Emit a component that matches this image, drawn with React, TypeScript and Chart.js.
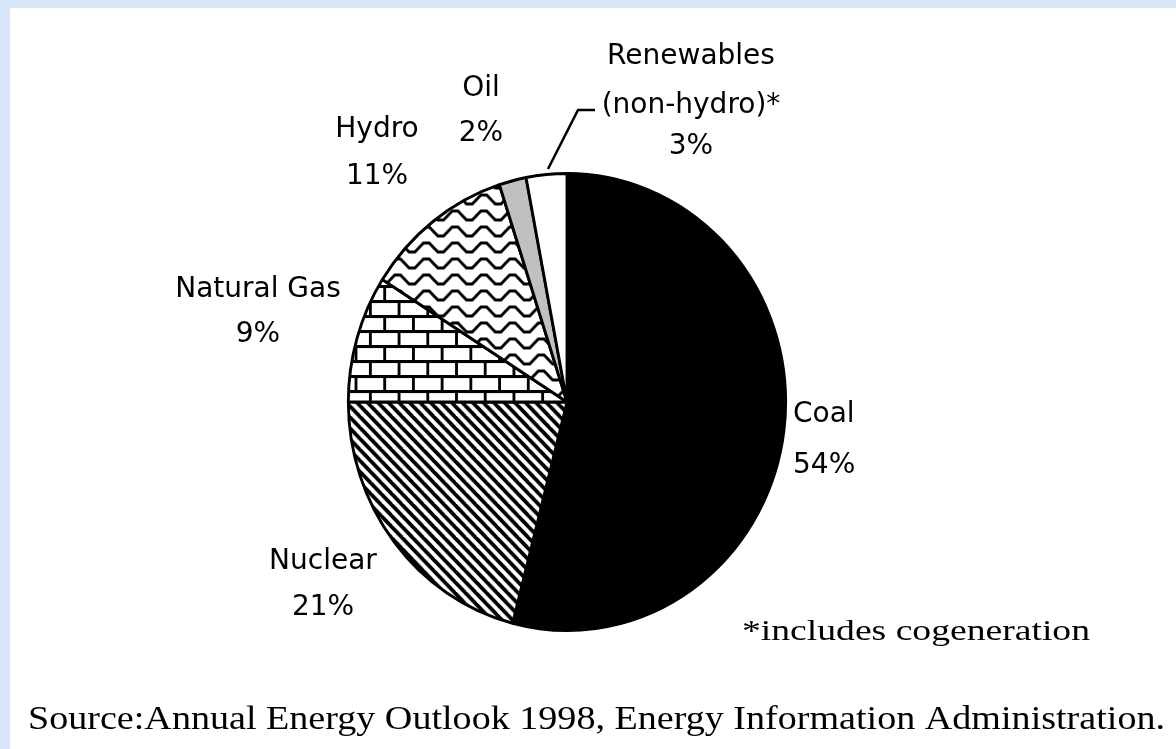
import React, { useEffect, useRef } from "react";
import { Chart, registerables } from "chart.js";
Chart.register(...registerables);

// ---- data ----
const categories = ["Coal", "Nuclear", "Natural Gas", "Hydro", "Oil", "Renewables (non-hydro)*"];
const shares = [54, 21, 9, 11, 2, 3];
const shareLabels = ["54%", "21%", "9%", "11%", "2%", "3%"];
const nameLines = [["Coal"], ["Nuclear"], ["Natural Gas"], ["Hydro"], ["Oil"], ["Renewables", "(non-hydro)*"]];
const footnote = "*includes cogeneration";
const sourceText = "Source:Annual Energy Outlook 1998, Energy Information Administration.";

// ---- layout / style ----
const W = 1176;
const H = 749;
const SX = 0.957; // slight horizontal squash (pie is a bit taller than wide)
const labelPos = [
  { x: 793, ys: [415, 466], align: "left" },
  { x: 323, ys: [562, 608], align: "center" },
  { x: 258, ys: [290, 335], align: "center" },
  { x: 377, ys: [130, 177], align: "center" },
  { x: 481, ys: [89, 134], align: "center" },
  { x: 691, ys: [57, 106, 147], align: "center" },
];

function makeTile(w: number, h: number, draw: (c: CanvasRenderingContext2D) => void) {
  const cv = document.createElement("canvas");
  cv.width = w;
  cv.height = h;
  const c = cv.getContext("2d")!;
  c.fillStyle = "#fff";
  c.fillRect(0, 0, w, h);
  c.fillStyle = "#000";
  c.strokeStyle = "#000";
  draw(c);
  return cv;
}

function fitText(ctx: CanvasRenderingContext2D, text: string, left: number, cy: number, width: number, font: string) {
  ctx.font = font;
  const w = ctx.measureText(text).width;
  ctx.save();
  ctx.translate(left, cy);
  ctx.scale(width / w, 1);
  ctx.textAlign = "left";
  ctx.textBaseline = "middle";
  ctx.fillText(text, 0, 0);
  ctx.restore();
}

export default function App() {
  const ref = useRef<HTMLCanvasElement | null>(null);
  useEffect(() => {
    const canvas = ref.current!;
    const pctx = canvas.getContext("2d")!;

    const stripes = makeTile(11, 11, (c) => {
      c.lineWidth = 3.9;
      c.lineCap = "square";
      for (const dx of [-11, 0, 11]) {
        c.beginPath();
        c.moveTo(dx - 2, -2);
        c.lineTo(dx + 13, 13);
        c.stroke();
      }
    });
    const bricks = makeTile(30, 30, (c) => {
      c.fillRect(0, 0, 30, 3);
      c.fillRect(0, 15, 30, 3);
      c.fillRect(0, 3, 3, 12);
      c.fillRect(15, 18, 3, 12);
    });
    const zigzag = makeTile(30, 16, (c) => {
      c.lineWidth = 3;
      c.lineJoin = "miter";
      c.beginPath();
      c.moveTo(-4, 3);
      c.lineTo(3, 3);
      c.lineTo(12, 12);
      c.lineTo(18, 12);
      c.lineTo(27, 3);
      c.lineTo(34, 3);
      c.stroke();
    });

    const fills = [
      "#000000",
      pctx.createPattern(stripes, "repeat"),
      pctx.createPattern(bricks, "repeat"),
      pctx.createPattern(zigzag, "repeat"),
      "#c0c0c0",
      "#ffffff",
    ];

    const bg = {
      id: "bg",
      beforeDraw(chart: any) {
        const ctx = chart.ctx;
        ctx.save();
        ctx.fillStyle = "#d8e5f7";
        ctx.fillRect(0, 0, W, H);
        ctx.fillStyle = "#ffffff";
        ctx.fillRect(10, 8, W - 10, H - 8);
        ctx.restore();
      },
    };
    const squash = {
      id: "squash",
      beforeDatasetsDraw(chart: any) {
        const ctx = chart.ctx;
        const a = chart.chartArea;
        const cx = (a.left + a.right) / 2;
        ctx.save();
        ctx.translate(cx, 0);
        ctx.scale(SX, 1);
        ctx.translate(-cx, 0);
      },
      afterDatasetsDraw(chart: any) {
        chart.ctx.restore();
      },
    };
    const labels = {
      id: "labels",
      afterDraw(chart: any) {
        const ctx = chart.ctx as CanvasRenderingContext2D;
        ctx.save();
        ctx.fillStyle = "#000";
        ctx.font = "28px 'DejaVu Sans'";
        ctx.textBaseline = "middle";
        categories.forEach((_, i) => {
          const p = labelPos[i];
          const lines = [...nameLines[i], shareLabels[i]];
          ctx.textAlign = p.align as CanvasTextAlign;
          lines.forEach((t, j) => ctx.fillText(t, p.x, p.ys[j]));
        });
        // leader line for renewables
        ctx.strokeStyle = "#000";
        ctx.lineWidth = 2.5;
        ctx.beginPath();
        ctx.moveTo(595, 110);
        ctx.lineTo(578, 110);
        ctx.lineTo(548, 169);
        ctx.stroke();
        fitText(ctx, footnote, 742, 632, 348, "30px 'Liberation Serif'");
        fitText(ctx, sourceText, 28, 720, 1137, "33px 'Liberation Serif'");
        ctx.restore();
      },
    };

    const chart = new Chart(canvas, {
      type: "pie",
      data: {
        labels: categories,
        datasets: [
          {
            data: shares,
            backgroundColor: fills as any,
            borderColor: "#000000",
            borderWidth: 3,
          },
        ],
      },
      options: {
        responsive: false,
        animation: false,
        layout: { padding: { left: 337, right: 379, top: 172, bottom: 117 } },
        plugins: {
          legend: { display: false },
          tooltip: { enabled: false },
        },
      },
      plugins: [bg, squash, labels],
    });
    return () => chart.destroy();
  }, []);

  return (
    <div style={{ position: "fixed", left: 0, top: 0, width: W, height: H }}>
      <canvas ref={ref} width={W} height={H} style={{ display: "block", width: W, height: H }} />
    </div>
  );
}
